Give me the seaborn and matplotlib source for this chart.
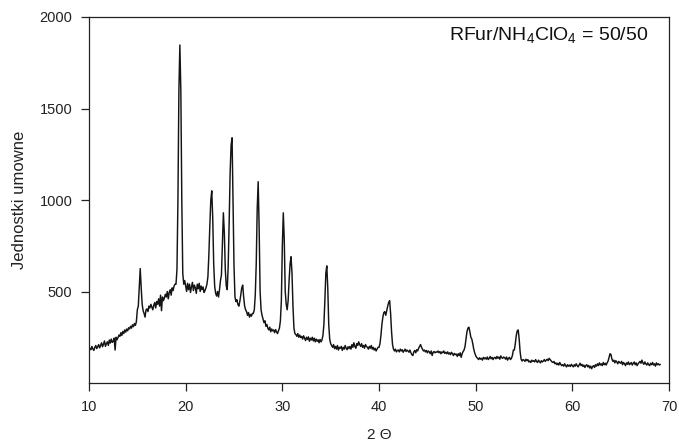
import numpy as np
import pandas as pd
import matplotlib
matplotlib.use("Agg")
import matplotlib.pyplot as plt
import seaborn as sns

# Intensity, one row per degree (2-theta = row start + 0.0 ... 0.9)
rows_10_19 = [
    [175, 190, 182, 200, 186, 178, 195, 205, 188, 198],
    [210, 192, 205, 220, 198, 212, 230, 200, 215, 225],
    [205, 235, 218, 240, 222, 228, 245, 180, 250, 236],
    [248, 262, 255, 275, 260, 282, 270, 290, 278, 295],
    [285, 302, 295, 310, 300, 318, 308, 325, 315, 335],
    [400, 420, 520, 625, 520, 430, 395, 380, 360, 400],
    [405, 390, 420, 410, 430, 415, 400, 425, 440, 410],
    [445, 430, 460, 420, 480, 395, 470, 450, 465, 485],
    [470, 500, 460, 495, 510, 480, 520, 505, 530, 540],
    [540, 620, 1000, 1600, 1847, 1600, 1000, 600, 540, 560],
]
rows_20_29 = [
    [530, 500, 545, 510, 540, 495, 525, 550, 505, 535],
    [520, 490, 540, 515, 545, 500, 530, 510, 525, 495],
    [505, 520, 540, 580, 700, 860, 1000, 1050, 900, 650],
    [530, 490, 475, 500, 470, 510, 560, 590, 760, 930],
    [820, 620, 530, 510, 640, 880, 1150, 1300, 1340, 1000],
    [640, 470, 445, 455, 430, 420, 445, 480, 520, 535],
    [470, 420, 400, 390, 370, 385, 360, 375, 365, 380],
    [380, 400, 480, 650, 950, 1100, 850, 500, 400, 370],
    [350, 330, 340, 310, 320, 300, 290, 305, 280, 295],
    [285, 290, 275, 292, 280, 270, 285, 300, 340, 450],
]
rows_30_39 = [
    [750, 930, 780, 500, 430, 400, 450, 560, 650, 690],
    [600, 420, 300, 270, 265, 255, 270, 250, 262, 248],
    [255, 240, 258, 245, 232, 250, 238, 252, 228, 245],
    [235, 250, 230, 245, 225, 240, 228, 236, 220, 238],
    [225, 235, 260, 320, 450, 600, 640, 520, 320, 240],
    [215, 205, 195, 210, 188, 200, 185, 205, 180, 195],
    [190, 200, 178, 195, 185, 205, 190, 182, 198, 188],
    [200, 185, 210, 195, 220, 200, 190, 215, 205, 225],
    [210, 200, 215, 195, 205, 190, 210, 200, 195, 185],
    [200, 190, 205, 185, 195, 180, 190, 175, 185, 195],
]
rows_40_49 = [
    [195, 215, 260, 320, 360, 385, 390, 370, 395, 420],
    [440, 450, 380, 280, 210, 185, 175, 185, 170, 178],
    [180, 170, 185, 175, 182, 168, 176, 185, 172, 180],
    [175, 168, 180, 165, 155, 150, 170, 178, 165, 182],
    [175, 190, 200, 210, 195, 185, 175, 180, 170, 178],
    [165, 175, 170, 160, 175, 150, 168, 172, 165, 170],
    [168, 175, 165, 172, 160, 170, 165, 175, 162, 168],
    [160, 170, 158, 165, 155, 168, 160, 150, 162, 155],
    [158, 145, 160, 150, 165, 140, 160, 172, 180, 200],
    [240, 280, 300, 305, 280, 250, 240, 215, 185, 165],
]
rows_50_59 = [
    [150, 140, 135, 128, 138, 130, 135, 125, 140, 132],
    [138, 130, 142, 128, 135, 145, 132, 140, 128, 138],
    [140, 132, 145, 135, 142, 130, 148, 138, 135, 142],
    [138, 130, 142, 125, 135, 140, 128, 135, 150, 180],
    [180, 215, 260, 285, 290, 240, 170, 130, 120, 128],
    [125, 118, 130, 122, 128, 115, 120, 112, 125, 118],
    [122, 115, 128, 118, 112, 125, 118, 110, 122, 115],
    [120, 128, 118, 125, 130, 122, 135, 128, 120, 115],
    [112, 118, 105, 110, 100, 108, 98, 112, 102, 95],
    [100, 92, 105, 95, 88, 100, 92, 98, 90, 102],
]
rows_60_69 = [
    [95, 88, 100, 92, 105, 95, 88, 98, 108, 95],
    [102, 90, 98, 85, 95, 100, 88, 96, 82, 92],
    [78, 90, 95, 85, 100, 92, 105, 95, 110, 98],
    [105, 95, 112, 100, 108, 98, 110, 120, 140, 160],
    [155, 130, 118, 125, 110, 122, 115, 105, 118, 112],
    [108, 118, 100, 112, 105, 95, 110, 102, 115, 100],
    [105, 112, 98, 108, 115, 100, 110, 95, 105, 112],
    [118, 108, 125, 110, 102, 115, 105, 98, 110, 100],
    [95, 108, 100, 112, 98, 105, 92, 110, 100, 105],
    [98, 102],
]

x_ticks = [10, 20, 30, 40, 50, 60, 70]
y_ticks = [500, 1000, 1500, 2000]
annotation = r"RFur/NH$_4$ClO$_4$ = 50/50"
x_label = "2 \u0398"
y_label = "Jednostki umowne"

intensity = []
for block in (rows_10_19, rows_20_29, rows_30_39, rows_40_49, rows_50_59, rows_60_69):
    for r in block:
        intensity.extend(r)
two_theta = np.round(10.0 + 0.1 * np.arange(len(intensity)), 1)
df = pd.DataFrame({"two_theta": two_theta, "intensity": intensity})

sns.set_style("ticks")
plt.rcParams["font.family"] = ["Liberation Sans", "DejaVu Sans"]
plt.rcParams["mathtext.fontset"] = "custom"
plt.rcParams["mathtext.rm"] = "Liberation Sans"
plt.rcParams["mathtext.it"] = "Liberation Sans"

fig = plt.figure(figsize=(6.79, 4.41), dpi=100)
ax = fig.add_axes([89 / 679, 1 - 383 / 441, 580 / 679, 366 / 441])
sns.lineplot(data=df, x="two_theta", y="intensity", ax=ax, color="#141414", linewidth=1.05)

ax.set_xlim(10, 70)
ax.set_ylim(0, 2000)
ax.set_xticks(x_ticks)
ax.set_yticks(y_ticks)
ax.tick_params(direction="out", length=6, width=0.9, labelsize=10.5, colors="#222222", pad=6)
for s in ax.spines.values():
    s.set_linewidth(0.9)
    s.set_color("#222222")
ax.set_xlabel(x_label, fontsize=11, labelpad=10, color="#222222")
ax.set_ylabel(y_label, fontsize=12, labelpad=9, color="#222222")
ax.text(0.965, 0.95, annotation, transform=ax.transAxes, ha="right", va="center",
        fontsize=14, color="#111111")

fig.savefig("out.png", dpi=100)
